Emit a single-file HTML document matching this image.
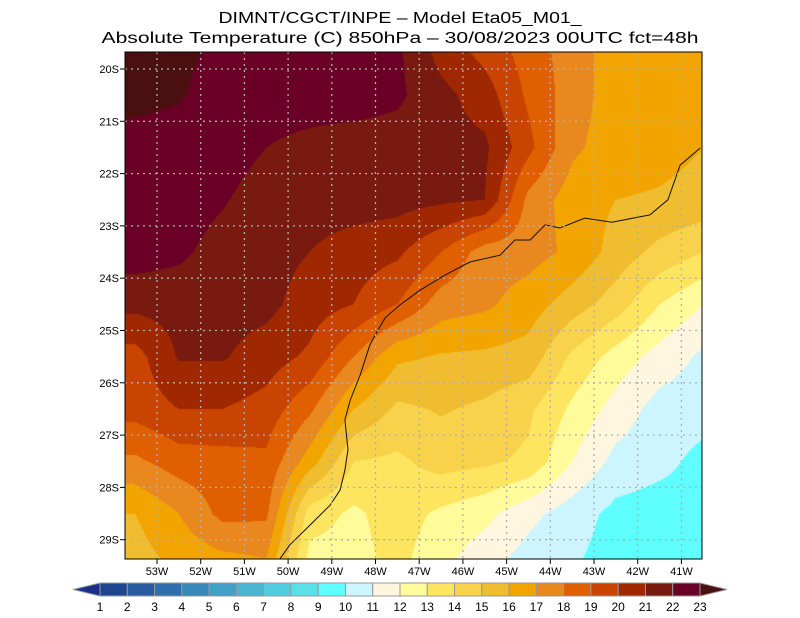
<!DOCTYPE html>
<html><head><meta charset="utf-8">
<style>
html,body{margin:0;padding:0;background:#fff;}
#wrap{position:relative;width:800px;height:618px;overflow:hidden;}
canvas{position:absolute;left:125px;top:52px;}
svg{position:absolute;left:0;top:0;}
text{font-family:"Liberation Sans",sans-serif;}
</style></head><body>
<div id="wrap">
<canvas id="field" width="577" height="507"></canvas>
<svg id="svg" width="800" height="618">
<text x="400" y="23" text-anchor="middle" font-size="16" textLength="363" lengthAdjust="spacingAndGlyphs">DIMNT/CGCT/INPE –  Model Eta05_M01_</text>
<text x="400" y="43" text-anchor="middle" font-size="16" textLength="597" lengthAdjust="spacingAndGlyphs">Absolute Temperature (C) 850hPa –  30/08/2023 00UTC fct=48h</text>
</svg>
</div>
<script>
const gridLons = [53.5,52.5,51.5,50.5,49.5,48.5,47.5,46.5,45.5,44.5,43.5,42.5,41.5,40.5];
const gridLats = [19.5,20.5,21.5,22.5,23.5,24.5,25.5,26.5,27.5,28.5,29.5];
const temps = [
[23.8,23.3,22.8,22.5,22.5,22.5,22.2,20.5,19.5,18.5,17.5,16.5,16.3,16.0],
[23.3,23.1,22.5,22.5,22.5,22.5,22.2,21.3,20.5,18.8,17.5,16.5,16.3,16.2],
[22.6,22.5,22.5,22.0,21.7,21.5,21.5,21.4,21.2,19.3,17.2,16.5,16.3,16.0],
[22.6,22.5,22.1,21.5,21.5,21.5,21.4,21.2,21.0,17.7,16.5,16.0,15.9,15.7],
[22.5,22.2,21.6,21.4,21.0,20.5,20.2,19.0,17.5,17.4,16.8,15.6,14.7,14.0],
[21.3,21.4,21.4,21.3,20.5,20.0,19.0,17.5,17.2,16.5,15.5,14.5,13.0,12.0],
[19.6,21.1,21.1,20.5,19.8,18.0,16.2,15.9,15.8,15.6,13.8,12.6,11.6,10.8],
[19.4,20.0,20.0,19.6,18.2,16.0,14.8,15.1,14.8,14.2,12.8,11.6,10.6,10.4],
[17.8,18.5,18.6,18.8,16.5,14.0,13.8,14.4,14.2,13.8,12.0,10.7,10.3,9.7],
[16.0,17.0,18.3,18.2,13.5,12.8,13.5,12.8,12.3,11.3,10.5,9.7,9.5,9.6],
[15.5,16.2,16.5,16.8,12.5,12.6,13.3,12.2,11.3,10.5,10.1,9.5,9.4,9.4]];
const levelColors = ["#1a2f8a","#1f4590","#2a5aa0","#2e70ad","#3589b8","#3fa0c8","#48b5d3","#52cde0","#5ae0e8","#60ffff","#ccf5ff","#fff6e0","#fffa9a","#fde560","#f7d24a","#f0bd30","#f2a500","#e8881e","#e06000","#c84400","#a02800","#781a10","#6a0025","#4a1010"];
const tickLabels = ["1","2","3","4","5","6","7","8","9","10","11","12","13","14","15","16","17","18","19","20","21","22","23"];
const lonTicks = [53,52,51,50,49,48,47,46,45,44,43,42,41];
const latTicks = [20,21,22,23,24,25,26,27,28,29];
const coastLon = [40.57,41.03,41.31,41.72,42.59,43.21,43.78,44.12,44.46,44.81,45.15,45.84,46.41,46.98,47.44,47.78,48.01,48.13,48.35,48.58,48.70,48.63,48.70,48.81,49.04,49.50,49.96,50.19];
const coastLat = [21.51,21.84,22.50,22.79,22.93,22.85,23.04,22.98,23.27,23.27,23.56,23.69,23.94,24.23,24.51,24.76,25.09,25.28,25.85,26.33,26.71,27.28,27.67,28.05,28.34,28.72,29.10,29.37];

const X0=125,Y0=52,W=577,H=507;
function xOf(lon){return 157+(53-lon)*43.7;}
function yOf(lat){return 69+(lat-20)*52.3;}
function sample(px,py){
  const lon=53-(px-157)/43.7, lat=20+(py-69)/52.3;
  let fi=(gridLons[0]-lon)/(gridLons[0]-gridLons[1]);
  let fj=(lat-gridLats[0])/(gridLats[1]-gridLats[0]);
  fi=Math.max(0,Math.min(gridLons.length-1.0001,fi));
  fj=Math.max(0,Math.min(gridLats.length-1.0001,fj));
  const i=Math.floor(fi),j=Math.floor(fj),a=fi-i,b=fj-j;
  return temps[j][i]*(1-a)*(1-b)+temps[j][i+1]*a*(1-b)+temps[j+1][i]*(1-a)*b+temps[j+1][i+1]*a*b;
}
const cv=document.getElementById('field'),ctx=cv.getContext('2d');
const img=ctx.createImageData(W,H);
const rgb=levelColors.map(c=>[parseInt(c.substr(1,2),16),parseInt(c.substr(3,2),16),parseInt(c.substr(5,2),16)]);
for(let y=0;y<H;y++)for(let x=0;x<W;x++){
  const t=sample(X0+x+0.5,Y0+y+0.5);
  let k=Math.floor(t); k=Math.max(0,Math.min(23,k));
  const c=rgb[k],o=(y*W+x)*4;
  img.data[o]=c[0];img.data[o+1]=c[1];img.data[o+2]=c[2];img.data[o+3]=255;
}
ctx.putImageData(img,0,0);

const svg=document.getElementById('svg'),NS='http://www.w3.org/2000/svg';
function mk(tag,attrs){const e=document.createElementNS(NS,tag);for(const k in attrs)e.setAttribute(k,attrs[k]);svg.appendChild(e);return e;}
let d='';coastLon.forEach((lo,i)=>{d+=(i?'L':'M')+xOf(lo).toFixed(1)+' '+yOf(coastLat[i]).toFixed(1);});
const coast=mk('path',{d:d,fill:'none',stroke:'#111','stroke-width':1});


lonTicks.forEach(lo=>{const x=xOf(lo);
  const g=mk('line',{x1:x,y1:Y0,x2:x,y2:Y0+H,stroke:'#b0b0b0','stroke-width':1.3,'stroke-dasharray':'2,4'});
  
  
  mk('line',{x1:x,y1:Y0+H,x2:x,y2:Y0+H+5,stroke:'#000'});
  const t=mk('text',{x:x,y:575,'text-anchor':'middle','font-size':11});t.textContent=lo+'W';
  
  
});
latTicks.forEach(la=>{const y=yOf(la);
  const g=mk('line',{x1:X0,y1:y,x2:X0+W,y2:y,stroke:'#b0b0b0','stroke-width':1.3,'stroke-dasharray':'2,4'});
  
  
  mk('line',{x1:X0-5,y1:y,x2:X0,y2:y,stroke:'#000'});
  const t=mk('text',{x:X0-6,y:y+4,'text-anchor':'end','font-size':11});t.textContent=la+'S';
  
  
});
const fr=mk('rect',{x:X0,y:Y0,width:W,height:H,fill:'none',stroke:'#000','stroke-width':1});


const cbX=100,cbW=600/22,cbY=583,cbH=13;
const lt=mk('polygon',{points:`${cbX},${cbY} ${cbX},${cbY+cbH} 73,${cbY+cbH/2}`,fill:levelColors[0],stroke:'#999'});


for(let i=1;i<=22;i++){
  const r=mk('rect',{x:cbX+(i-1)*cbW,y:cbY,width:cbW,height:cbH,fill:levelColors[i],stroke:'#999','stroke-width':1});
  
  
}
const rt=mk('polygon',{points:`700,${cbY} 700,${cbY+cbH} 727,${cbY+cbH/2}`,fill:levelColors[23],stroke:'#999'});


tickLabels.forEach((s,i)=>{
  const t=mk('text',{x:cbX+i*cbW,y:611,'text-anchor':'middle','font-size':12});t.textContent=s;
  
  
});
</script>
</body></html>
